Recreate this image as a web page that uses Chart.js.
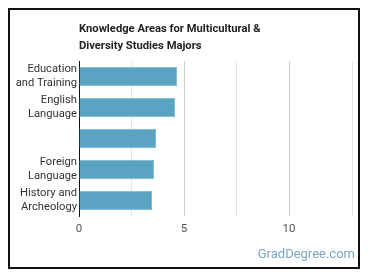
<!DOCTYPE html>
<html><head><meta charset="utf-8">
<script src="https://cdn.jsdelivr.net/npm/chart.js@4/dist/chart.umd.min.js"></script>
<style>
html,body{margin:0;padding:0;background:#fff;}
#wrap{position:relative;width:370px;height:278px;overflow:hidden;font-family:Roboto,sans-serif;}
#frame{position:absolute;left:8px;top:8px;width:348px;height:257px;border:2px solid #111;}
#title{position:absolute;left:79px;top:20px;font-weight:bold;font-size:11.2px;line-height:17px;color:#222;}
#wm{position:absolute;right:15px;top:246px;font-size:13px;color:#7ba6c0;}
canvas{position:absolute;left:0;top:0;}
</style></head>
<body><div id="wrap"><div id="frame"></div>
<canvas id="c" width="370" height="278"></canvas>
<div id="title">Knowledge Areas for Multicultural &amp;<br>Diversity Studies Majors</div>
<div id="wm">GradDegree.com</div></div>
<script>
const categories = [["Education","and Training"],["English","Language"],"",["Foreign","Language"],["History and","Archeology"]];
const values = [4.67, 4.57, 3.67, 3.57, 3.48];
const tickLabels = [0, 5, 10];
new Chart(document.getElementById('c'), {
  type: 'bar',
  data: { labels: categories, datasets: [{ data: values, backgroundColor: '#5ba3c3', borderColor: '#7cb8d2', borderWidth: 1, categoryPercentage: 1, barPercentage: 0.63 }] },
  options: {
    responsive: false, animation: false, indexAxis: 'y',
    layout: { padding: { top: 61, right: 18, bottom: 40, left: 0 } },
    plugins: { legend: { display: false }, tooltip: { enabled: false } },
    scales: {
      x: { min: 0, max: 13, ticks: { stepSize: 2.5, padding: 6, color: '#555', font: { family: 'Roboto', size: 11.5 },
             callback: v => tickLabels.includes(v) ? String(v) : '' },
           grid: { drawTicks: false, color: ctx => (ctx.tick && ctx.tick.value % 5 === 0) ? '#cfcfcf' : '#e6e6e6' },
           border: { display: false },
           afterFit: s => { s.height = 22; } },
      y: { ticks: { autoSkip: false, padding: 2, color: '#333', font: { family: 'Roboto', size: 11.2, lineHeight: 1.25 } },
           grid: { display: false, drawTicks: false },
           border: { display: true, color: '#111', width: 1 },
           afterFit: s => { s.width = 79; } }
    }
  }
});
</script></body></html>
